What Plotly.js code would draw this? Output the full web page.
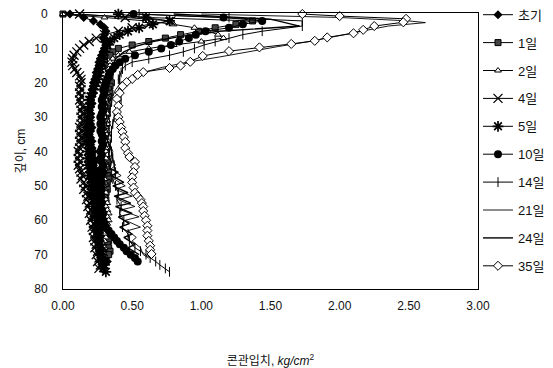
<!DOCTYPE html>
<html><head><meta charset="utf-8">
<script src="https://cdn.plot.ly/plotly-3.0.1.min.js"></script>
<style>html,body{margin:0;padding:0;background:#fff}#c{width:553px;height:368px}</style>
</head><body><div id="c"></div>
<script>
// series names (legend labels)
const seriesNames = ['초기','1일','2일','4일','5일','10일','14일','21일','24일','35일'];

// depth (cm) and cone index (kg/cm2) for each series
const depth0 = [0,1,2,3,4,5,6,7,8,9,10,11,12,13,14,15,16,17,18,19,20,21,22,23,24,25,26,27,28,29,30,31,32,33,34,35,36,37,38,39,40,41,42,43,44,45,46,47,48,49,50,51,52,53,54,55,56,57,58,59,60,61,62,63,64,65,66,67,68,69,70,71,72];
const cone0  = [0.05,0.15,0.22,0.27,0.30,0.31,0.30,0.29,0.30,0.31,0.30,0.29,0.28,0.27,0.26,0.26,0.25,0.24,0.24,0.23,0.22,0.22,0.21,0.22,0.21,0.20,0.21,0.20,0.19,0.20,0.20,0.19,0.20,0.21,0.20,0.19,0.20,0.21,0.20,0.21,0.22,0.21,0.22,0.23,0.22,0.23,0.24,0.23,0.24,0.25,0.24,0.25,0.26,0.25,0.26,0.27,0.26,0.27,0.28,0.27,0.28,0.29,0.28,0.29,0.30,0.29,0.30,0.31,0.30,0.31,0.32,0.31,0.32];

const depth1 = [0,1,2,3,4,5,6,7,8,9,10,11,12,13,14,15,16,17,18,19,20,21,22,23,24,25,26,27,28,29,30,31,32,33,34,35,36,37,38,39,40,41,42,43,44,45,46,47,48,49,50,51,52,53,54,55,56,57,58,59,60,61,62,63,64,65,66,67,68,69,70];
const cone1  = [0.00,0.60,1.37,1.25,1.10,0.98,0.85,0.74,0.62,0.50,0.40,0.36,0.34,0.30,0.30,0.32,0.33,0.34,0.34,0.33,0.35,0.34,0.33,0.34,0.33,0.32,0.33,0.32,0.31,0.32,0.31,0.30,0.31,0.30,0.31,0.30,0.29,0.30,0.29,0.30,0.31,0.30,0.31,0.32,0.31,0.32,0.33,0.32,0.33,0.32,0.31,0.32,0.31,0.30,0.31,0.30,0.29,0.30,0.29,0.30,0.31,0.30,0.31,0.32,0.31,0.32,0.33,0.32,0.33,0.34,0.33];

const depth2 = [0,1,2,3,4,5,6,7,8,9,10,11,12,13,14,15,16,17,18,19,20,21,22,23,24,25,26,27,28,29,30,31,32,33,34,35,36,37,38,39,40,41,42,43,44,45,46,47,48,49,50,51,52,53,54,55,56,57,58,59,60,61,62,63,64,65,66,67,68,69,70];
const cone2  = [0.00,0.30,0.60,0.80,0.95,1.05,1.12,1.16,1.00,0.80,0.62,0.48,0.40,0.36,0.34,0.34,0.33,0.33,0.32,0.31,0.31,0.30,0.31,0.32,0.32,0.31,0.32,0.31,0.31,0.32,0.31,0.32,0.32,0.31,0.32,0.32,0.31,0.31,0.32,0.31,0.31,0.32,0.31,0.30,0.31,0.30,0.30,0.29,0.30,0.30,0.29,0.30,0.31,0.30,0.31,0.32,0.31,0.32,0.33,0.32,0.33,0.32,0.31,0.31,0.30,0.31,0.30,0.29,0.30,0.29,0.30];

const depth4 = [0,1,2,3,4,5,6,7,8,9,10,11,12,13,14,15,16,17,18,19,20,21,22,23,24,25,26,27,28,29,30,31,32,33,34,35,36,37,38,39,40,41,42,43,44,45,46,47,48,49,50,51,52,53,54,55,56,57,58,59,60,61,62,63,64,65,66,67,68,69,70,71,72,73,74];
const cone4  = [0.12,0.45,0.78,0.62,0.50,0.40,0.30,0.24,0.19,0.15,0.12,0.10,0.08,0.07,0.065,0.07,0.085,0.10,0.12,0.13,0.13,0.12,0.13,0.12,0.13,0.12,0.13,0.14,0.13,0.14,0.13,0.14,0.13,0.12,0.13,0.12,0.13,0.12,0.13,0.12,0.11,0.12,0.11,0.12,0.11,0.12,0.13,0.14,0.13,0.15,0.16,0.15,0.17,0.18,0.17,0.19,0.18,0.20,0.19,0.21,0.20,0.22,0.21,0.22,0.23,0.22,0.23,0.24,0.23,0.25,0.24,0.26,0.25,0.27,0.26];

const depth5 = [0,1,2,3,4,5,6,7,8,9,10,11,12,13,14,15,16,17,18,19,20,21,22,23,24,25,26,27,28,29,30,31,32,33,34,35,36,37,38,39,40,41,42,43,44,45,46,47,48,49,50,51,52,53,54,55,56,57,58,59,60,61,62,63,64,65,66,67,68,69,70,71,72,73,74,75];
const cone5  = [0.40,0.60,0.77,0.65,0.55,0.47,0.41,0.37,0.34,0.32,0.31,0.30,0.29,0.28,0.28,0.27,0.27,0.26,0.26,0.25,0.24,0.23,0.22,0.21,0.20,0.19,0.20,0.19,0.18,0.19,0.18,0.19,0.18,0.17,0.18,0.17,0.18,0.17,0.18,0.19,0.18,0.19,0.18,0.19,0.18,0.19,0.20,0.19,0.20,0.21,0.20,0.21,0.22,0.21,0.22,0.23,0.22,0.23,0.24,0.23,0.24,0.25,0.24,0.25,0.26,0.25,0.26,0.27,0.26,0.28,0.27,0.29,0.28,0.30,0.29,0.31];

const depth10 = [0,1,2,3,4,5,6,7,8,9,10,11,12,13,14,15,16,17,18,19,20,21,22,23,24,25,26,27,28,29,30,31,32,33,34,35,36,37,38,39,40,41,42,43,44,45,46,47,48,49,50,51,52,53,54,55,56,57,58,59,60,61,62,63,64,65,66,67,68,69,70,71,72];
const cone10  = [0.51,1.16,1.44,1.30,1.20,1.03,0.96,0.91,0.84,0.78,0.71,0.62,0.52,0.45,0.41,0.38,0.36,0.34,0.33,0.32,0.31,0.30,0.29,0.30,0.29,0.28,0.29,0.28,0.29,0.28,0.27,0.28,0.27,0.28,0.27,0.28,0.29,0.28,0.29,0.28,0.27,0.28,0.27,0.28,0.29,0.28,0.29,0.28,0.27,0.28,0.27,0.28,0.27,0.28,0.27,0.28,0.27,0.28,0.29,0.28,0.29,0.30,0.31,0.33,0.35,0.37,0.39,0.41,0.44,0.46,0.49,0.52,0.54];

const depth14 = [0,1,2,3.5,5,6,7,8,9,10,11,12,13,14,15,16,17,18,19,20,21,22,23,24,25,26,27,28,29,30,32,34,36,38,40,42,44,46,48,50,52,54,56,58,60,62,64,66,68,69,70,71,72,73,74,75];
const cone14  = [0.55,1.20,1.73,1.73,1.44,1.30,1.20,1.10,1.02,0.95,0.87,0.77,0.62,0.50,0.45,0.43,0.42,0.41,0.40,0.41,0.42,0.41,0.40,0.41,0.42,0.40,0.41,0.40,0.38,0.37,0.36,0.35,0.35,0.34,0.35,0.36,0.37,0.38,0.36,0.38,0.40,0.39,0.42,0.41,0.44,0.43,0.47,0.48,0.52,0.56,0.60,0.63,0.67,0.70,0.74,0.77];

const depth21 = [0,1,2,2.5,3.5,5,6.5,8,9.5,11,12.5,14,15.5,17,18.5,20,22,24,26,28,30,32,34,36,38,40,42,44,45,47,48,50,51,53,54,56,57,59,60,62,63,65,66,68,70,71];
const cone21  = [1.00,2.00,2.50,2.62,2.35,2.15,1.98,1.78,1.55,1.35,1.13,0.90,0.72,0.58,0.48,0.42,0.38,0.36,0.35,0.34,0.33,0.34,0.33,0.35,0.34,0.36,0.35,0.38,0.35,0.42,0.37,0.45,0.38,0.50,0.40,0.52,0.42,0.55,0.45,0.56,0.47,0.53,0.50,0.56,0.58,0.62];

const depth24 = [0,1.5,3.5,5,6.5,8,9.5,11,13,15,17,19,21,23,25,27,29,31,33,35,37,39,41,43,45,46,47,49,50,52,53,55,56,58,59,61,62,64,65,67,68,70];
const cone24  = [0.80,1.50,1.71,1.13,0.85,0.65,0.52,0.44,0.38,0.36,0.35,0.34,0.33,0.32,0.33,0.32,0.31,0.32,0.31,0.33,0.32,0.34,0.33,0.35,0.34,0.40,0.35,0.44,0.36,0.47,0.37,0.49,0.38,0.50,0.40,0.48,0.41,0.50,0.44,0.52,0.47,0.55];

const depth35 = [0,0.6,1.4,2.4,3.5,4.6,5.6,6.8,7.8,8.7,9.7,10.8,12.2,13.9,15,15.7,16.9,17.7,18.9,19.8,21,23,24.7,26.7,28.5,30,31.4,33,34.3,35.8,37.2,39,40.5,41.6,43,44.5,46,47.5,49,50.5,52,53,54,55,56,57.3,58.7,60,61.6,63,64.5,66,67.4,68.6,69.8];
const cone35  = [1.73,2.00,2.48,2.46,2.25,2.17,2.10,1.91,1.82,1.65,1.42,1.20,1.01,0.92,0.85,0.77,0.58,0.54,0.50,0.46,0.43,0.41,0.39,0.40,0.39,0.40,0.41,0.42,0.43,0.44,0.45,0.45,0.47,0.48,0.52,0.52,0.51,0.50,0.50,0.51,0.52,0.54,0.56,0.57,0.58,0.58,0.59,0.60,0.61,0.61,0.61,0.62,0.63,0.63,0.64];

const xTickVals = [0,0.5,1,1.5,2,2.5,3];
const yTickVals = [0,10,20,30,40,50,60,70,80];

const depths = [depth0,depth1,depth2,depth4,depth5,depth10,depth14,depth21,depth24,depth35];
const cones  = [cone0,cone1,cone2,cone4,cone5,cone10,cone14,cone21,cone24,cone35];

const K = '#000';
const markers = [
  {symbol:'diamond', size:7, color:K},
  {symbol:'square', size:6, color:'#444', line:{color:K,width:1}},
  {symbol:'triangle-up', size:6, color:'#fff', line:{color:K,width:1}},
  {symbol:'x-thin-open', size:9, color:K, line:{color:K,width:1.3}},
  {symbol:'asterisk-open', size:9, color:K, line:{color:K,width:1.7}},
  {symbol:'circle', size:8, color:K},
  {symbol:'line-ns-open', size:7, color:K, line:{color:K,width:1}},
  null,
  null,
  {symbol:'diamond', size:7, color:'#fff', line:{color:K,width:1}}
];
const lineW = [1,1,1,1,1,1,1,0.9,1.4,1];

const traces = seriesNames.map((nm,i)=>{
  const t = {
    type:'scatter', name:nm, x:cones[i], y:depths[i],
    mode: markers[i] ? 'lines+markers' : 'lines',
    line:{color:K,width:lineW[i]},
    legendgroup:'g'+i,
    cliponaxis:false
  };
  if (markers[i]) t.marker = markers[i];
  return t;
});

const FONT = '"Liberation Sans", Arial, "Noto Sans CJK KR", sans-serif';
const layout = {
  width:553, height:368,
  margin:{l:63,r:75,t:13,b:79,autoexpand:false},
  paper_bgcolor:'#fff', plot_bgcolor:'#fff',
  font:{family:FONT, size:12, color:'#111'},
  showlegend:true,
  legend:{x:1.0, xanchor:'left', y:1.048, yanchor:'top', font:{family:FONT,size:13,color:'#111'},
          tracegroupgap:8, traceorder:'grouped', bgcolor:'rgba(0,0,0,0)', itemwidth:30,
          maxheight:1000},
  xaxis:{range:[0,3], tickvals:xTickVals, tickformat:'.2f', showgrid:false, zeroline:false,
         showline:true, linecolor:K, linewidth:1, mirror:true, ticks:'', ticklabelstandoff:6,
         title:{text:'콘관입치, <i>kg/cm</i><sup>2</sup>', font:{family:FONT,size:12,color:'#111'}, standoff:44}},
  yaxis:{range:[80,-0.3], tickvals:yTickVals, showgrid:false, zeroline:false,
         showline:true, linecolor:K, linewidth:1, mirror:true, ticks:'', ticklabelstandoff:12,
         title:{text:'깊이, cm', font:{family:FONT,size:12,color:'#111'}, standoff:6}}
};
Plotly.newPlot('c', traces, layout, {staticPlot:true, displayModeBar:false});
</script>
</body></html>
